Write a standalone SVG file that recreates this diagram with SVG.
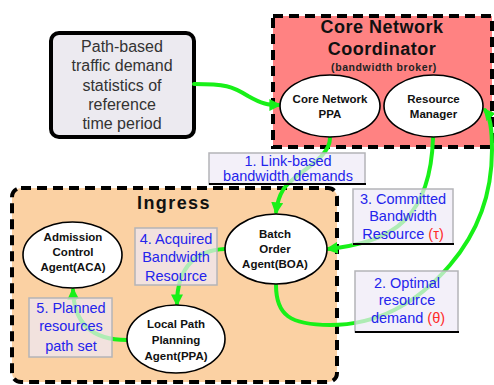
<svg xmlns="http://www.w3.org/2000/svg" width="494" height="385" viewBox="0 0 494 385">
  <defs>
    <style>
      .frame { stroke: #000; stroke-width: 4; stroke-dasharray: 10 6; }
      .node { fill: #fff; stroke: #000; stroke-width: 1.6; }
      .ntext { font-family: "Liberation Sans", Arial, sans-serif; font-weight: bold; font-size: 11.5px; fill: #111; text-anchor: middle; }
      .title { font-family: "Liberation Sans", Arial, sans-serif; font-weight: bold; font-size: 18px; fill: #111; text-anchor: middle; }
      .lbox { fill: #EEEAF6; fill-opacity: 0.7; stroke: #B4B4B8; stroke-width: 1.5; }
      .lbase { stroke: #000; stroke-width: 2; }
      .ltext { font-family: "Liberation Sans", Arial, sans-serif; font-size: 14.5px; fill: #2424EC; text-anchor: middle; }
      .sym { fill: #FF2A2A; }
      .link { fill: none; stroke: #18F018; stroke-width: 4; stroke-linecap: round; marker-end: url(#arrow); }
    </style>
    <marker id="arrow" markerUnits="userSpaceOnUse" markerWidth="12" markerHeight="12" viewBox="0 0 10 10" refX="8" refY="5" orient="auto">
      <path d="M0,0 L10,5 L0,10 z" fill="#18F018"/>
    </marker>
  </defs>

  <rect width="494" height="385" fill="#fff"/>

  <!-- containers -->
  <g id="core-coordinator">
    <rect x="273" y="16" width="219" height="131" fill="#FF8282" class="frame"/>
    <text class="title" x="382" y="33" letter-spacing="0.5">Core Network</text>
    <text class="title" x="382" y="55" letter-spacing="0.5">Coordinator</text>
    <text x="384" y="71" font-family="Liberation Sans, Arial, sans-serif" font-weight="bold" font-size="10.5px" fill="#222" text-anchor="middle" letter-spacing="0.6">(bandwidth broker)</text>
  </g>

  <g id="ingress">
    <rect x="12" y="188" width="325" height="194" rx="9" fill="#FBD1A3" class="frame"/>
    <text class="title" x="174" y="209" letter-spacing="1.4">Ingress</text>
  </g>

  <g id="traffic-statistics">
    <rect x="51" y="33" width="143" height="104" rx="8" fill="#ECEAF0" stroke="#000" stroke-width="4"/>
    <g font-family="Liberation Sans, Arial, sans-serif" font-size="16px" fill="#333" text-anchor="middle">
      <text x="122" y="52">Path-based</text>
      <text x="122" y="71">traffic demand</text>
      <text x="122" y="91">statistics of</text>
      <text x="122" y="110">reference</text>
      <text x="122" y="129">time period</text>
    </g>
  </g>

  <!-- connectors -->
  <g id="connectors">
    <path class="link" d="M194,84 C225,84 232,86 248,96 C262,104 268,105 279,105"/>
    <path class="link" d="M330,138 C330,160 292,174 283,190 C278,198 277,204 276,212"/>
    <path class="link" d="M433,138 C432,170 425,200 405,220 C385,240 355,246 328,249"/>
    <path class="link" d="M276,285 C276,315 290,325 330,325 C380,325 420,300 450,265 C480,230 492,190 492,150 C492,127 490,116 485,110"/>
    <path class="link" d="M225,249 C198,250 177,265 177,304"/>
    <path class="link" d="M127,340 C100,340 74,330 73,290"/>
  </g>

  <!-- agents -->
  <g id="core-ppa">
    <ellipse class="node" cx="330" cy="106" rx="50" ry="31"/>
    <text class="ntext" x="330" y="103" font-size="12px">Core Network</text>
    <text class="ntext" x="330" y="118" font-size="12px">PPA</text>
  </g>
  <g id="resource-manager">
    <ellipse class="node" cx="433.5" cy="106" rx="49.5" ry="31"/>
    <text class="ntext" x="433.5" y="103" font-size="12px">Resource</text>
    <text class="ntext" x="433.5" y="118" font-size="12px">Manager</text>
  </g>
  <g id="aca">
    <ellipse class="node" cx="72.5" cy="255" rx="49.5" ry="33"/>
    <text class="ntext" x="73" y="241">Admission</text>
    <text class="ntext" x="73" y="256">Control</text>
    <text class="ntext" x="73" y="271">Agent(ACA)</text>
  </g>
  <g id="boa">
    <ellipse class="node" cx="276" cy="249" rx="51" ry="35"/>
    <text class="ntext" x="275" y="238">Batch</text>
    <text class="ntext" x="275" y="253">Order</text>
    <text class="ntext" x="275" y="268">Agent(BOA)</text>
  </g>
  <g id="local-ppa">
    <ellipse class="node" cx="176" cy="339" rx="49" ry="34"/>
    <text class="ntext" x="176" y="328">Local Path</text>
    <text class="ntext" x="176" y="344">Planning</text>
    <text class="ntext" x="176" y="360">Agent(PPA)</text>
  </g>

  <!-- message labels -->
  <g id="label-1">
    <rect class="lbox" x="209" y="153" width="156" height="31"/>
    <line class="lbase" x1="209" y1="184" x2="366" y2="184"/>
    <text class="ltext" x="288" y="166">1. Link-based</text>
    <text class="ltext" x="288" y="181">bandwidth demands</text>
  </g>
  <g id="label-2">
    <rect class="lbox" x="355" y="271" width="103" height="61"/>
    <line class="lbase" x1="355" y1="332" x2="459" y2="332"/>
    <text class="ltext" x="407" y="288">2. Optimal</text>
    <text class="ltext" x="407" y="305">resource</text>
    <text class="ltext" x="408" y="323">demand <tspan class="sym">(θ)</tspan></text>
  </g>
  <g id="label-3">
    <rect class="lbox" x="353" y="189" width="100" height="55"/>
    <line class="lbase" x1="353" y1="244" x2="454" y2="244"/>
    <text class="ltext" x="403" y="204">3. Committed</text>
    <text class="ltext" x="403" y="221">Bandwidth</text>
    <text class="ltext" x="403" y="239">Resource <tspan class="sym">(τ)</tspan></text>
  </g>
  <g id="label-4">
    <rect class="lbox" x="135" y="228" width="82" height="57"/>
    <text class="ltext" x="176" y="244" font-size="15px">4. Acquired</text>
    <text class="ltext" x="176" y="262" font-size="15px">Bandwidth</text>
    <text class="ltext" x="176" y="281" font-size="15px">Resource</text>
  </g>
  <g id="label-5">
    <rect class="lbox" x="29" y="298" width="83" height="59"/>
    <text class="ltext" x="71" y="313" font-size="15px">5. Planned</text>
    <text class="ltext" x="71" y="331" font-size="15px">resources</text>
    <text class="ltext" x="71" y="351" font-size="15px">path set</text>
  </g>
</svg>
